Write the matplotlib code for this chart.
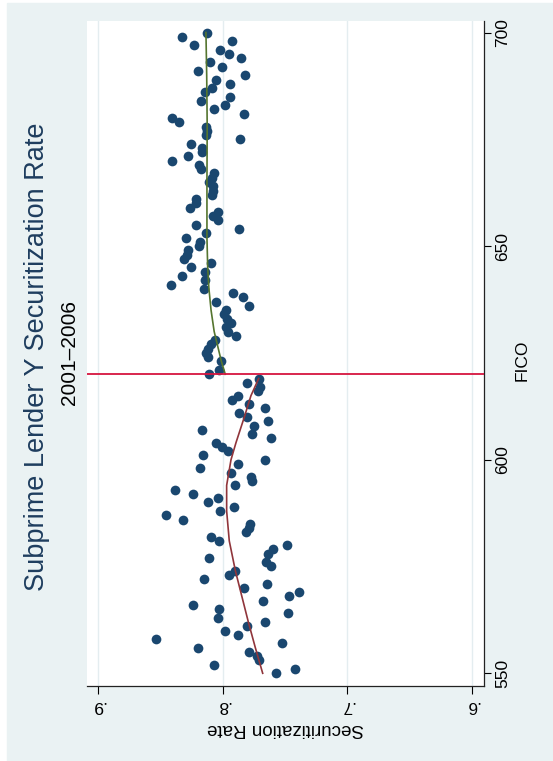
import numpy as np
import matplotlib
matplotlib.use("Agg")
import matplotlib.pyplot as plt
from matplotlib.patches import Rectangle

plt.rcParams['font.family'] = ['Liberation Sans', 'DejaVu Sans']

# FICO scores and securitization rate, below the 620 cutoff
fico_lo = np.arange(550, 620)
rate_lo = np.array([
    .7569, .7423, .8069, .7709, .7722, .7786, .8195, .7527, .8535, .7880,
    .7984, .7807, .7660, .8035, .7473, .8027, .8238, .7679, .7465, .7388,
    .7826, .7644, .8147, .7947, .7898, .7612, .7655, .8110, .7634, .7596,
    .7481, .8032, .8094, .7813, .7792, .7781, .8321, .8454, .8019, .7906,
    .8120, .8040, .8235, .8382, .7904, .7767, .7773, .7930, .8182, .7874,
    .7663, .8160, .7955, .8008, .8053, .7612, .7765, .8166, .7751, .7636,
    .7802, .7872, .7658, .7786, .7925, .7880, .7719, .7698, .7805, .7706])

# at and above the cutoff
fico_hi = np.array([620, 621] + list(range(623, 701)))
rate_hi = np.array([
    .8107, .8027, .8013, .8118, .8134, .8115, .8094, .8059, .7893, .7957,
    .7973, .7933, .7968, .7987, .7973, .7789, .8056, .7834, .7914, .8150,
    .8412, .8144, .8329, .8139, .8254, .8096, .8307, .8289, .8278, .8192,
    .8184, .8291, .8134, .7869, .8214, .8040, .8080, .8035, .8265, .8214,
    .8214, .8086, .8080, .8080, .8112, .8086, .8067, .8171, .8187, .8406,
    .8281, .8168, .8168, .8251, .7858, .8134, .8128, .8134, .8347, .8406,
    .7832, .8067, .7981, .8171, .7941, .8139, .8086, .7944, .8053, .7818,
    .8195, .8005, .8102, .7853, .7947, .8021, .8233, .7922, .8326, .8128])

# fitted curves on each side
fit_lo_fico = [550, 556, 562, 568, 574, 581, 588, 594, 600, 604, 610, 615, 619]
fit_lo_rate = [.7679, .7738, .7794, .7846, .7898, .7947, .7968, .7968, .7933,
               .7893, .7826, .7773, .7711]
fit_hi_fico = [620, 623, 626, 630, 635, 640, 645, 652, 665, 678, 690, 700]
fit_hi_rate = [.7979, .8010, .8035, .8068, .8093, .8110, .8120, .8126, .8126,
               .8124, .8128, .8134]

cutoff = 620
rate_ticks = [.9, .8, .7, .6]
rate_labels = ['.9', '.8', '.7', '.6']
fico_ticks = [550, 600, 650, 700]

W, H = 553, 761


def fx(x):
    return x / W


def fy(y):
    return 1 - y / H


fig = plt.figure(figsize=(W / 100, H / 100), dpi=100)
fig.patch.set_facecolor('white')
fig.add_artist(Rectangle((fx(7), 0), 1 - fx(7), 1 - 3 / H,
                         transform=fig.transFigure, color='#eaf2f3', zorder=0))

ax = fig.add_axes([fx(87), fy(685.5), fx(484) - fx(87), (685.5 - 21) / H])
ax.set_facecolor('white')
ax.set_xlim(0.9088, 0.5904)
ax.set_ylim(547.14, 702.7)

for s in ['left', 'top']:
    ax.spines[s].set_visible(False)
for s in ['right', 'bottom']:
    ax.spines[s].set_color('#222222')
    ax.spines[s].set_linewidth(0.9)

ax.set_xticks(rate_ticks)
ax.set_xticklabels(rate_labels)
ax.tick_params(axis='x', length=5.8, width=0.8, pad=3.5, labelrotation=180,
               labelsize=12.5, colors='black')
ax.yaxis.set_ticks_position('right')
ax.set_yticks(fico_ticks)
ax.tick_params(axis='y', length=5, width=0.8, pad=3, labelrotation=90,
               labelsize=12.5, labelright=True, labelleft=False)
for lbl in ax.get_yticklabels():
    lbl.set_va('center')

ax.grid(axis='x', color='#e4edf0', linewidth=1.0)
ax.set_axisbelow(True)

ax.plot(rate_lo, fico_lo, 'o', color='#1a476f', markersize=7,
        markeredgewidth=0, zorder=3)
ax.plot(rate_hi, fico_hi, 'o', color='#1a476f', markersize=7,
        markeredgewidth=0, zorder=3)
ax.plot(fit_lo_rate, fit_lo_fico, color='#90353b', linewidth=1.2, zorder=4)
ax.plot(fit_hi_rate, fit_hi_fico, color='#55752f', linewidth=1.2, zorder=4)
ax.axhline(cutoff, color='#d6153f', linewidth=1.3, zorder=5)

fig.text(fx(37.5), fy(357), 'Subprime Lender Y Securitization Rate',
         rotation=90, ha='center', va='center', fontsize=19.5, color='#1e3d5e')
fig.text(fx(70), fy(352.5), '2001\u20132006', rotation=90,
         ha='center', va='center', fontsize=15, color='black')
fig.text(fx(522.5), fy(360), 'FICO', rotation=90,
         ha='center', va='center', fontsize=12.5, color='black')
fig.text(fx(285), fy(729), 'Securitization Rate', rotation=180,
         ha='center', va='center', fontsize=13.5, color='black')

fig.savefig('out.png', dpi=100, facecolor=fig.get_facecolor())
